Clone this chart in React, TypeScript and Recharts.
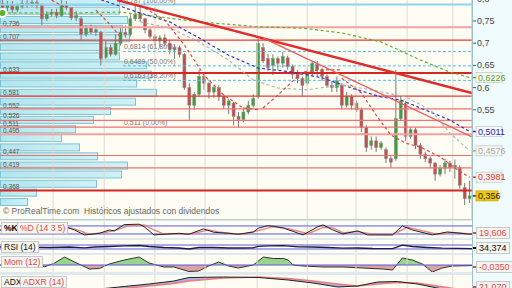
import React from "react";
import {
  ComposedChart,
  Bar,
  Line,
  Area,
  XAxis,
  YAxis,
  ReferenceLine,
} from "recharts";

// daily candles (price, EUR)
const opens = [
  0.79, 0.78, 0.785, 0.775, 0.783, 0.79, 0.786, 0.792, 0.785, 0.755, 0.765, 0.77,
  0.762, 0.785, 0.78, 0.757, 0.755, 0.72, 0.735, 0.725, 0.725, 0.668, 0.69, 0.675,
  0.7, 0.725, 0.72, 0.755, 0.768, 0.755, 0.73, 0.715, 0.705, 0.712, 0.7, 0.685,
  0.69, 0.675, 0.6, 0.56, 0.585, 0.625, 0.61, 0.59, 0.6, 0.58, 0.56, 0.565,
  0.535, 0.528, 0.545, 0.56, 0.58, 0.69, 0.665, 0.65, 0.665, 0.655, 0.667, 0.647,
  0.63, 0.62, 0.61, 0.635, 0.652, 0.64, 0.625, 0.605, 0.6, 0.605, 0.56, 0.58,
  0.565, 0.55, 0.51, 0.47, 0.48, 0.465, 0.46, 0.44, 0.44, 0.53, 0.565, 0.49,
  0.505, 0.47, 0.45, 0.44, 0.43, 0.405, 0.418, 0.43, 0.42, 0.42, 0.375, 0.35,
];
const highs = [
  0.797, 0.795, 0.795, 0.79, 0.797, 0.797, 0.797, 0.797, 0.79, 0.772, 0.777, 0.778,
  0.797, 0.795, 0.78, 0.772, 0.76, 0.74, 0.742, 0.738, 0.728, 0.705, 0.697, 0.72,
  0.735, 0.74, 0.765, 0.787, 0.787, 0.757, 0.735, 0.72, 0.718, 0.72, 0.707, 0.697,
  0.695, 0.678, 0.61, 0.59, 0.64, 0.63, 0.612, 0.605, 0.605, 0.585, 0.575, 0.568,
  0.545, 0.555, 0.57, 0.585, 0.71, 0.7, 0.675, 0.675, 0.67, 0.68, 0.672, 0.652,
  0.64, 0.625, 0.645, 0.66, 0.66, 0.645, 0.63, 0.615, 0.625, 0.61, 0.59, 0.585,
  0.57, 0.555, 0.515, 0.49, 0.49, 0.48, 0.465, 0.445, 0.64, 0.58, 0.57, 0.51,
  0.51, 0.475, 0.455, 0.445, 0.432, 0.425, 0.44, 0.435, 0.438, 0.425, 0.385, 0.39,
];
const lows = [
  0.775, 0.772, 0.768, 0.77, 0.778, 0.78, 0.782, 0.778, 0.741, 0.75, 0.76, 0.756,
  0.76, 0.775, 0.752, 0.75, 0.707, 0.715, 0.72, 0.716, 0.65, 0.665, 0.67, 0.672,
  0.695, 0.712, 0.715, 0.75, 0.748, 0.722, 0.71, 0.695, 0.69, 0.692, 0.675, 0.665,
  0.668, 0.595, 0.525, 0.55, 0.58, 0.595, 0.575, 0.577, 0.57, 0.552, 0.54, 0.515,
  0.51, 0.522, 0.54, 0.555, 0.575, 0.655, 0.638, 0.628, 0.64, 0.645, 0.64, 0.62,
  0.61, 0.58, 0.605, 0.625, 0.625, 0.615, 0.6, 0.59, 0.59, 0.55, 0.555, 0.55,
  0.545, 0.5, 0.455, 0.46, 0.455, 0.46, 0.43, 0.42, 0.435, 0.525, 0.48, 0.485,
  0.462, 0.44, 0.432, 0.418, 0.39, 0.4, 0.405, 0.41, 0.395, 0.372, 0.335, 0.34,
];
const closes = [
  0.78, 0.785, 0.775, 0.783, 0.79, 0.786, 0.792, 0.785, 0.755, 0.765, 0.77, 0.762,
  0.785, 0.78, 0.757, 0.762, 0.72, 0.735, 0.725, 0.73, 0.665, 0.69, 0.675, 0.7,
  0.725, 0.72, 0.755, 0.765, 0.755, 0.73, 0.715, 0.705, 0.712, 0.7, 0.685, 0.69,
  0.675, 0.6, 0.56, 0.585, 0.625, 0.61, 0.59, 0.6, 0.58, 0.56, 0.57, 0.535,
  0.528, 0.545, 0.56, 0.575, 0.7, 0.66, 0.645, 0.665, 0.655, 0.67, 0.647, 0.63,
  0.62, 0.605, 0.635, 0.655, 0.64, 0.625, 0.605, 0.6, 0.615, 0.56, 0.58, 0.56,
  0.55, 0.51, 0.465, 0.48, 0.465, 0.475, 0.44, 0.432, 0.53, 0.57, 0.49, 0.505,
  0.47, 0.45, 0.44, 0.43, 0.405, 0.418, 0.43, 0.42, 0.425, 0.38, 0.35, 0.356,
];

// moving averages / stops, as [candle index, price]
const greenMa = [[0, 0.768], [14, 0.768], [24, 0.77], [32, 0.759], [40, 0.748], [52, 0.737], [61, 0.734], [69, 0.723], [77, 0.703], [85, 0.662], [91, 0.635], [95, 0.6226]];
const blueMa = [[19, 0.802], [28, 0.768], [34, 0.748], [40, 0.712], [46, 0.673], [52, 0.644], [59, 0.635], [65, 0.622], [71, 0.599], [77, 0.579], [81, 0.572], [85, 0.554], [91, 0.527], [95, 0.5011]];
const grayMa = [[28, 0.748], [34, 0.734], [40, 0.703], [46, 0.662], [51, 0.617], [56, 0.599], [62, 0.595], [69, 0.606], [75, 0.595], [82, 0.579], [87, 0.55], [91, 0.498], [95, 0.4576]];
const stopA = [[10, 0.797], [13, 0.779]];
const stopB = [[19, 0.775], [22, 0.741], [24, 0.714]];
const stopC = [[29, 0.779], [33, 0.752], [37, 0.696], [41, 0.628], [45, 0.583], [49, 0.554], [52, 0.55]];
const stopD = [[53, 0.554], [56, 0.583], [61, 0.635], [65, 0.64], [69, 0.64]];
const stopE = [[69, 0.621], [73, 0.588], [76, 0.538], [79, 0.493], [82, 0.475], [85, 0.466], [89, 0.444], [92, 0.419], [95, 0.3981]];

// trend lines [index, price]
const thickTrend = [[23.3, 0.797], [95.5, 0.588]];
const thinTrend = [[53, 0.712], [95.5, 0.489]];

// support / resistance levels
const levelPrices = [0.736, 0.707, 0.633, 0.581, 0.552, 0.526, 0.511, 0.495, 0.447, 0.419, 0.368];
const levelLabels = ["0,736", "0,707", "0,633", "0,581", "0,552", "0,526", "0,511", "0,495", "0,447", "0,419", "0,368"];

// fibonacci retracement
const fibPrices = [0.787, 0.6814, 0.6489, 0.6163, 0.511];
const fibLabels = ["0,787 (100,00%)", "0,6814 (61,80%)", "0,6489 (50,00%)", "0,6163 (38,20%)", "0,511 (0,00%)"];
const fibStart = 24.5;

// volume by price (bin bottom, relative volume)
const profileBottoms = [0.331, 0.352, 0.372, 0.393, 0.413, 0.434, 0.454, 0.475, 0.495, 0.516, 0.536, 0.557, 0.577, 0.598, 0.618, 0.639, 0.659, 0.68, 0.7, 0.721, 0.741, 0.762, 0.782];
const profileVolumes = [28, 37, 97, 122, 128, 98, 80, 62, 76, 94, 111, 136, 157, 137, 152, 147, 120, 120, 130, 123, 128, 120, 120];
const PROFILE_STEP = 0.0205;
const PROFILE_MAX = 472;

// month separators (candle index)
const monthLines = [10.3, 20.7, 31, 41.2, 51.8, 62, 71.9, 82.3, 91.6];

// right axis
const priceTicks = [0.8, 0.75, 0.7, 0.65, 0.6, 0.55];
const lastValues = [0.6226, 0.5011, 0.4576, 0.3981, 0.356];
const lastLabels = ["0,6226", "0,5011", "0,4576", "0,3981", "0,356"];

// indicators [index, value]
const stochK = [[0, 50], [2, 48], [3, 33], [6, 50], [9, 25], [10, 43], [13, 75], [15, 50], [17, 13], [20, 25], [22, 50], [23, 43], [25, 90], [28, 93], [29, 75], [31, 13], [33, 18], [36, 25], [38, 18], [41, 58], [43, 33], [46, 25], [48, 18], [51, 35], [52, 63], [54, 83], [57, 65], [61, 13], [64, 75], [65, 88], [67, 50], [69, 20], [72, 43], [74, 13], [79, 13], [81, 80], [83, 50], [87, 13], [90, 35], [92, 28], [94, 20], [95, 20]];
const stochD = [[0, 48], [3, 40], [6, 45], [9, 32], [11, 40], [14, 68], [16, 45], [18, 18], [21, 30], [23, 45], [26, 82], [29, 88], [31, 50], [33, 20], [37, 22], [39, 25], [42, 50], [44, 35], [47, 22], [49, 20], [52, 45], [55, 75], [58, 60], [62, 22], [65, 70], [67, 65], [69, 30], [72, 38], [75, 18], [79, 15], [82, 70], [84, 52], [88, 18], [91, 32], [93, 26], [95, 19.6]];
const rsi = [[0, 50], [3, 52], [6, 48], [10, 45], [14, 50], [17, 42], [19, 50], [22, 55], [25, 62], [28, 65], [30, 55], [33, 45], [36, 40], [38, 30], [40, 45], [43, 45], [46, 40], [49, 40], [51, 42], [52, 57], [54, 62], [57, 63], [60, 52], [63, 50], [66, 45], [69, 38], [72, 40], [75, 35], [79, 33], [81, 68], [83, 55], [86, 45], [89, 38], [92, 37], [95, 34.4]];
const mom = [[0, 0], [3, -0.005], [6, 0], [9, -0.017], [11, 0.02], [13, 0.08], [15, 0.03], [18, -0.04], [20, -0.035], [22, 0.01], [25, 0.05], [28, 0.08], [30, 0.02], [33, -0.02], [35, -0.02], [38, -0.065], [40, -0.06], [42, -0.01], [44, 0.03], [46, -0.01], [48, -0.03], [51, 0], [53, 0.08], [55, 0.065], [57, 0.065], [58, 0.05], [59, 0], [61, -0.01], [65, -0.02], [69, -0.02], [73, -0.03], [77, -0.04], [79, -0.05], [81, 0.07], [83, 0.05], [85, 0.01], [86, -0.03], [87, -0.07], [89, -0.03], [91, -0.01], [94, -0.007], [95, -0.005]];
const adx = [[0, 30], [10, 28], [20, 32], [25, 37], [30, 42], [35, 48], [38, 55], [45, 56], [52, 55], [58, 50], [63, 44], [68, 36], [72, 38], [76, 46], [80, 47], [84, 42], [88, 34], [92, 26], [95, 21]];
const adxr = [[0, 32], [10, 30], [20, 30], [25, 33], [30, 38], [35, 43], [38, 48], [45, 54], [52, 56], [58, 53], [63, 48], [68, 42], [72, 38], [76, 42], [80, 45], [84, 44], [88, 38], [92, 32], [95, 28]];

const PLOT_W = 472;
const FONT = "'Liberation Sans', Arial, sans-serif";
const LAST_COLORS = ["#58a02a", "#2222c8", "#a8a8a8", "#d83030", "#222"];

const pick = (pairs: number[][], i: number) => {
  const f = pairs.find((p) => p[0] === i);
  return f ? f[1] : null;
};

const rows = opens.map((o, i) => {
  const a = pick(adx, i);
  const b = pick(adxr, i);
  return {
    i,
    o,
    h: highs[i],
    l: lows[i],
    c: closes[i],
    range: [lows[i], highs[i]],
    green: pick(greenMa, i),
    blue: pick(blueMa, i),
    gray: pick(grayMa, i),
    sa: pick(stopA, i),
    sb: pick(stopB, i),
    sc: pick(stopC, i),
    sd: pick(stopD, i),
    se: pick(stopE, i),
    k: pick(stochK, i),
    d: pick(stochD, i),
    rsi: pick(rsi, i),
    mom: pick(mom, i),
    adx: a,
    adxr: b,
    band: a != null && b != null ? [Math.min(a, b), Math.max(a, b)] : null,
  };
});

// volume profile in its own vertical-layout chart
const profileRows = profileBottoms.map((b, k) => ({ mid: b + PROFILE_STEP / 2, vol: profileVolumes[k] }));

const Candle = (props: any) => {
  const { x, y, width, height, payload } = props;
  if (!payload || x == null) return null;
  const { o, c, h, l } = payload;
  const top = Math.min(y, y + height);
  const hh = Math.abs(height);
  const py = (v: number) => top + ((h - v) / (h - l || 1)) * hh;
  const up = c >= o;
  const cx = x + width / 2;
  const bTop = py(Math.max(o, c));
  const bBot = py(Math.min(o, c));
  return (
    <g>
      <line x1={cx} x2={cx} y1={top} y2={top + hh} stroke="#7a7a7a" strokeWidth={1} />
      <rect
        x={x}
        y={bTop}
        width={width}
        height={Math.max(1, bBot - bTop)}
        fill={up ? "#3f9f3f" : "#c0504d"}
        stroke="#8a8a8a"
        strokeWidth={0.5}
      />
    </g>
  );
};

const ProfileBar = (props: any) => {
  const { x, y, width, height } = props;
  if (x == null || !width) return null;
  return (
    <rect x={x + 0.5} y={y + 0.5} width={Math.max(0, width - 1)} height={Math.max(0, height - 1)} fill="url(#prof)" stroke="#7cc4d2" strokeWidth={1} />
  );
};

const PriceTick = (props: any) => {
  const { y, payload } = props;
  const v = payload.value;
  const idx = lastValues.indexOf(v);
  if (idx < 0) {
    return (
      <g>
        <line x1={PLOT_W + 1} x2={PLOT_W + 4} y1={y} y2={y} stroke="#555" />
        <text x={PLOT_W + 5} y={y + 3} fontSize={9} fill="#444" fontFamily={FONT}>
          {String(v).replace(".", ",")}
        </text>
      </g>
    );
  }
  const color = LAST_COLORS[idx];
  const isLast = idx === lastValues.length - 1;
  return (
    <g>
      <line x1={PLOT_W + 1} x2={PLOT_W + 4} y1={y} y2={y} stroke={color} strokeWidth={1.5} />
      <rect
        x={PLOT_W + 4}
        y={y - 5}
        width={isLast ? 22 : 26}
        height={10}
        fill={isLast ? "#f2c800" : "#f8f8f2"}
        stroke={isLast ? "#d0a800" : "#c8c8c8"}
        strokeWidth={0.8}
      />
      <text x={PLOT_W + 6} y={y + 3.2} fontSize={9} fill={color} fontFamily={FONT}>
        {lastLabels[idx]}
      </text>
    </g>
  );
};

const levelLabel = (text: string, lift: number) => (p: any) => {
  const vb = p.viewBox || {};
  return (
    <text x={(vb.x || 0) + 3} y={(vb.y || 0) - lift} fontSize={6.6} fill="#555" fontFamily={FONT}>
      {text}
    </text>
  );
};

const fibLabel = (text: string) => (p: any) => {
  const vb = p.viewBox || {};
  return (
    <text x={(vb.x || 0) + 1} y={(vb.y || 0) - 2} fontSize={7} fill="#777" fontFamily={FONT}>
      {text}
    </text>
  );
};

const levelStyle = (price: number) => {
  if (price === 0.633 || price === 0.368) return { stroke: "#d42424", w: 2 };
  if (price === 0.707 || price === 0.581) return { stroke: "#e03a3a", w: 1.3 };
  if (price === 0.736 || price === 0.495) return { stroke: "#f3a0a0", w: 2 };
  return { stroke: "#ee7070", w: 1.2 };
};

const dashLine = (key: string, color: string, w = 1.2) => (
  <Line
    key={key}
    dataKey={key}
    stroke={color}
    strokeWidth={w}
    strokeDasharray="3 2.5"
    dot={false}
    connectNulls
    isAnimationActive={false}
  />
);

const monthGrid = () =>
  monthLines.map((m) => (
    <ReferenceLine key={"m" + m} xAxisId="n" x={m} stroke="#dedbd0" strokeWidth={1} />
  ));

const tagStyle = (color: string): React.CSSProperties => ({
  position: "absolute",
  height: 10,
  lineHeight: "10px",
  padding: "0 2px",
  fontSize: 8.5,
  color,
  background: "#f4f4f0",
  border: "1px solid #c8c8c8",
  fontFamily: FONT,
  whiteSpace: "nowrap",
});

const valueTag = (top: number, text: string, color: string) => (
  <>
    <div style={{ position: "absolute", left: 473, top: top + 5, width: 3, height: 1.5, background: color }} />
    <div style={{ ...tagStyle(color), left: 476, top, fontSize: 9 }}>{text}</div>
  </>
);

const Panel = ({ top, height, domain, children }: any) => (
  <div style={{ position: "absolute", left: 0, top, width: PLOT_W, height, background: "#fefdf3", overflow: "hidden" }}>
    <ComposedChart width={PLOT_W} height={height} data={rows} margin={{ top: 0, right: 0, bottom: 0, left: 0 }}>
      <XAxis dataKey="i" hide />
      <XAxis xAxisId="n" dataKey="i" type="number" domain={[-0.5, 95.5]} hide allowDataOverflow />
      <YAxis hide domain={domain} allowDataOverflow />
      {monthGrid()}
      {children}
    </ComposedChart>
  </div>
);

const App = () => {
  return (
    <div
      style={{
        position: "absolute",
        left: 0,
        top: 0,
        width: 512,
        height: 288,
        overflow: "hidden",
        background: "#dfe9ee",
        fontFamily: FONT,
      }}
    >
      {/* right axis strip */}
      <div style={{ position: "absolute", left: PLOT_W, top: 0, width: 40, height: 288, background: "#f0fbfd" }} />
      <div style={{ position: "absolute", left: 0, top: 0, width: PLOT_W, height: 219, background: "#fefdf3" }} />

      {/* volume by price, drawn under the price chart */}
      <div style={{ position: "absolute", left: 0, top: 0 }}>
        <ComposedChart
          width={PLOT_W}
          height={219}
          layout="vertical"
          data={profileRows}
          margin={{ top: 0, right: 0, bottom: 0, left: 0 }}
        >
          <defs>
            <linearGradient id="prof" x1="0" y1="0" x2="1" y2="0">
              <stop offset="0%" stopColor="#b3e5ee" />
              <stop offset="100%" stopColor="#d0f1f6" />
            </linearGradient>
          </defs>
          <XAxis type="number" domain={[0, PROFILE_MAX]} hide allowDataOverflow />
          <YAxis type="number" dataKey="mid" domain={[0.304, 0.7973]} hide allowDataOverflow reversed />
          <Bar dataKey="vol" barSize={9} shape={<ProfileBar />} isAnimationActive={false} />
        </ComposedChart>
      </div>

      <div style={{ position: "absolute", left: 0, top: 0 }}>
        <ComposedChart width={512} height={219} data={rows} margin={{ top: 0, right: 0, bottom: 0, left: 0 }}>
          <XAxis dataKey="i" hide />
          <XAxis xAxisId="n" dataKey="i" type="number" domain={[-0.5, 95.5]} hide allowDataOverflow />
          <YAxis
            orientation="right"
            width={40}
            domain={[0.304, 0.7973]}
            allowDataOverflow
            ticks={[...priceTicks, ...lastValues]}
            interval={0}
            tick={<PriceTick />}
            tickLine={false}
            axisLine={{ stroke: "#9fbfcf" }}
          />
          {monthGrid()}
          <ReferenceLine y={fibPrices[0]} stroke="#8fd3ef" strokeWidth={2} />
          {fibPrices.map((f, k) => (
            <ReferenceLine
              key={"f" + k}
              xAxisId="n"
              segment={[
                { x: fibStart, y: f },
                { x: 95.5, y: f },
              ]}
              stroke={k === 0 || k === 4 ? "none" : "#4fbdf0"}
              strokeDasharray="3 2"
              strokeWidth={1}
              ifOverflow="hidden"
              label={fibLabel(fibLabels[k])}
            />
          ))}
          {levelPrices.map((p, k) => {
            const s = levelStyle(p);
            return (
              <ReferenceLine
                key={"l" + k}
                y={p}
                stroke={s.stroke}
                strokeWidth={s.w}
                label={levelLabel(levelLabels[k], p === 0.526 ? 2.5 : 1.2)}
              />
            );
          })}
          <Bar dataKey="range" shape={<Candle />} barSize={3} isAnimationActive={false} />
          {dashLine("green", "#62ae2e")}
          {dashLine("blue", "#2a36cc")}
          {dashLine("gray", "#b4b4b4")}
          {dashLine("sa", "#e84646")}
          {dashLine("sb", "#e84646")}
          {dashLine("sc", "#e84646")}
          {dashLine("sd", "#e84646")}
          {dashLine("se", "#e84646")}
          <ReferenceLine
            xAxisId="n"
            segment={[
              { x: thickTrend[0][0], y: thickTrend[0][1] },
              { x: thickTrend[1][0], y: thickTrend[1][1] },
            ]}
            stroke="#e02c2c"
            strokeWidth={2.5}
            ifOverflow="hidden"
          />
          <ReferenceLine
            xAxisId="n"
            segment={[
              { x: thinTrend[0][0], y: thinTrend[0][1] },
              { x: thinTrend[1][0], y: thinTrend[1][1] },
            ]}
            stroke="#ec5a5a"
            strokeWidth={1.2}
            ifOverflow="hidden"
          />
        </ComposedChart>
      </div>
      <div style={{ position: "absolute", left: 3, top: 206, fontSize: 8.5, color: "#666", whiteSpace: "nowrap" }}>
        © ProRealTime.com &nbsp;Históricos ajustados con dividendos
      </div>
      <div style={{ position: "absolute", left: 0, top: 219, width: PLOT_W, height: 1, background: "#b6cad6" }} />

      {/* stochastic */}
      <Panel top={221} height={17} domain={[-10, 117]}>
        <ReferenceLine y={80} stroke="#5a5ae0" strokeWidth={1} />
        <ReferenceLine y={20} stroke="#5a5ae0" strokeWidth={1} />
        <Line dataKey="d" stroke="#ef7d7d" strokeWidth={1.3} dot={false} connectNulls isAnimationActive={false} />
        <Line dataKey="k" stroke="#222" strokeWidth={1} dot={false} connectNulls isAnimationActive={false} />
      </Panel>
      <div style={{ ...tagStyle("#000"), left: 1, top: 222, fontWeight: "bold" }}>%K</div>
      <div style={{ ...tagStyle("#e04848"), left: 17, top: 222 }}>%D (14 3 5)</div>
      {valueTag(227, "19,606", "#e04848")}

      {/* RSI */}
      <Panel top={240} height={13} domain={[-10, 120]}>
        <ReferenceLine y={70} stroke="#5a5ae0" strokeWidth={1} />
        <ReferenceLine y={30} stroke="#5a5ae0" strokeWidth={1} />
        <Line dataKey="rsi" stroke="#1c1c40" strokeWidth={1.3} dot={false} connectNulls isAnimationActive={false} />
      </Panel>
      <div style={{ ...tagStyle("#111"), left: 1, top: 241 }}>RSI (14)</div>
      {valueTag(242, "34,374", "#111")}

      {/* momentum */}
      <Panel top={255} height={17} domain={[-0.07, 0.1]}>
        <defs>
          <linearGradient id="momFill" x1="0" y1="0" x2="0" y2="17" gradientUnits="userSpaceOnUse">
            <stop offset="0%" stopColor="#8fcf7f" />
            <stop offset={`${(10 / 17) * 100}%`} stopColor="#8fcf7f" />
            <stop offset={`${(10 / 17) * 100}%`} stopColor="#d59a98" />
            <stop offset="100%" stopColor="#d59a98" />
          </linearGradient>
        </defs>
        <ReferenceLine y={0} stroke="#5a5ae0" strokeWidth={1} />
        <Area
          dataKey="mom"
          baseValue={0}
          stroke="#333"
          strokeWidth={1}
          fill="url(#momFill)"
          fillOpacity={0.9}
          connectNulls
          isAnimationActive={false}
        />
      </Panel>
      <div style={{ ...tagStyle("#e04848"), left: 1, top: 256 }}>Mom (12)</div>
      {valueTag(261, "-0,0350", "#e04848")}

      {/* ADX */}
      <Panel top={275} height={30} domain={[0, 60]}>
        <Area dataKey="band" stroke="none" fill="#8a8ad6" fillOpacity={0.7} connectNulls isAnimationActive={false} />
        <Line dataKey="adxr" stroke="#ef7d7d" strokeWidth={1.3} dot={false} connectNulls isAnimationActive={false} />
        <Line dataKey="adx" stroke="#222" strokeWidth={1} dot={false} connectNulls isAnimationActive={false} />
      </Panel>
      <div style={{ ...tagStyle("#111"), left: 1, top: 276 }}>ADX</div>
      <div style={{ ...tagStyle("#e04848"), left: 20, top: 276 }}>ADXR (14)</div>
      {valueTag(281, "21,070", "#e04848")}

      <div style={{ position: "absolute", left: PLOT_W, top: 0, width: 1, height: 288, background: "#9fbfcf" }} />
    </div>
  );
};

export default App;
